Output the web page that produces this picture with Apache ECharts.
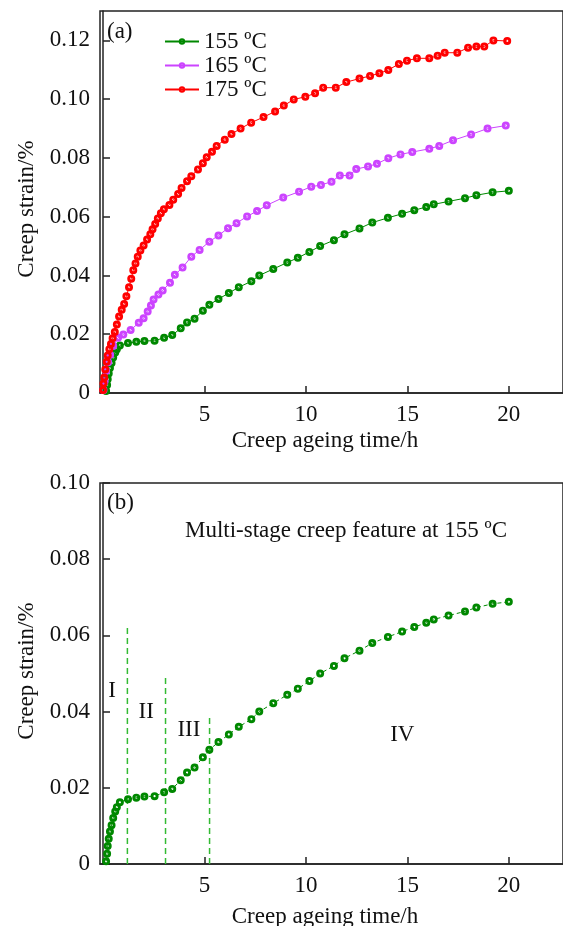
<!DOCTYPE html>
<html>
<head>
<meta charset="utf-8">
<script src="https://cdn.jsdelivr.net/npm/echarts@6/dist/echarts.min.js"></script>
<style>
  html, body { margin: 0; padding: 0; background: #fff; }
  #chart { width: 563px; height: 926px; }
</style>
</head>
<body>
<div id="chart"></div>
<script>
// creep ageing time (h) and creep strain (%)
const t155 = [0.15, 0.2, 0.23, 0.28, 0.34, 0.42, 0.5, 0.6, 0.68, 0.83, 1.23, 1.64, 2.04, 2.54, 3.01, 3.41, 3.83, 4.14, 4.51, 4.92, 5.24, 5.69, 6.2, 6.69, 7.31, 7.7, 8.39, 9.08, 9.6, 10.17, 10.7, 11.38, 11.9, 12.64, 13.27, 14.04, 14.74, 15.34, 15.93, 16.3, 17.03, 17.84, 18.4, 19.2, 20.0];
const s155 = [0.0007, 0.0027, 0.0047, 0.0066, 0.0085, 0.0102, 0.0121, 0.0138, 0.0149, 0.0162, 0.017, 0.0174, 0.0177, 0.0178, 0.0188, 0.0197, 0.022, 0.024, 0.0253, 0.028, 0.030, 0.032, 0.034, 0.036, 0.038, 0.040, 0.0422, 0.0444, 0.046, 0.048, 0.050, 0.052, 0.054, 0.056, 0.058, 0.0596, 0.061, 0.0622, 0.0633, 0.0642, 0.0652, 0.0663, 0.0673, 0.0683, 0.0688];

const t165 = [0.02, 0.08, 0.15, 0.25, 0.35, 0.5, 0.74, 1.0, 1.36, 1.76, 2.0, 2.2, 2.36, 2.49, 2.73, 2.94, 3.3, 3.54, 3.92, 4.35, 4.76, 5.24, 5.69, 6.16, 6.58, 7.1, 7.59, 8.07, 8.88, 9.66, 10.26, 10.74, 11.26, 11.67, 12.15, 12.48, 13.06, 13.5, 14.06, 14.66, 15.24, 16.08, 16.57, 17.25, 18.14, 18.95, 19.85];
const s165 = [0.001, 0.004, 0.0075, 0.0105, 0.013, 0.016, 0.0188, 0.0199, 0.0214, 0.0239, 0.0254, 0.0277, 0.0298, 0.0318, 0.0335, 0.0349, 0.0375, 0.0402, 0.0427, 0.0464, 0.0487, 0.0515, 0.0536, 0.0561, 0.0578, 0.0601, 0.0619, 0.0639, 0.0665, 0.0685, 0.0702, 0.0708, 0.0719, 0.074, 0.074, 0.0762, 0.0771, 0.078, 0.0799, 0.0812, 0.082, 0.0831, 0.0841, 0.086, 0.088, 0.090, 0.091];

const t175 = [0.0, 0.02, 0.06, 0.11, 0.18, 0.23, 0.31, 0.39, 0.47, 0.58, 0.68, 0.79, 0.92, 1.04, 1.15, 1.28, 1.39, 1.49, 1.6, 1.71, 1.84, 2.0, 2.17, 2.33, 2.44, 2.57, 2.7, 2.85, 3.0, 3.27, 3.46, 3.7, 3.87, 4.14, 4.35, 4.68, 4.92, 5.11, 5.37, 5.6, 6.0, 6.33, 6.78, 7.3, 7.91, 8.48, 8.91, 9.4, 9.97, 10.45, 10.85, 11.47, 11.99, 12.64, 13.16, 13.62, 14.06, 14.58, 14.98, 15.47, 16.08, 16.49, 16.84, 17.46, 17.99, 18.4, 18.79, 19.24, 19.92];
const s175 = [0.001, 0.0032, 0.0053, 0.008, 0.0106, 0.0128, 0.0149, 0.0167, 0.0186, 0.0208, 0.0233, 0.026, 0.0283, 0.0303, 0.0329, 0.036, 0.0389, 0.0418, 0.0441, 0.0464, 0.0485, 0.0502, 0.0522, 0.054, 0.0557, 0.0575, 0.0594, 0.0612, 0.0625, 0.064, 0.0658, 0.0677, 0.0698, 0.0721, 0.0738, 0.0761, 0.0782, 0.0802, 0.0821, 0.0841, 0.0862, 0.0881, 0.090, 0.092, 0.0939, 0.0958, 0.0978, 0.0999, 0.1008, 0.102, 0.1039, 0.1039, 0.1058, 0.107, 0.1079, 0.1088, 0.1099, 0.112, 0.1131, 0.1139, 0.1139, 0.1148, 0.1158, 0.1158, 0.1175, 0.1179, 0.1179, 0.120, 0.1198];

const seriesNames = ["155 ºC", "165 ºC", "175 ºC"];
const seriesColors = ["#008800", "#cc44ff", "#ff0000"];

// stage boundaries in panel (b)
const stageX = [1.2, 3.08, 5.25];
const stageTop = [0.062, 0.049, 0.039];
const stageNames = ["I", "II", "III", "IV"];
const stageLabelX = [0.45, 2.13, 4.23, 14.75];
const stageLabelY = [0.0453, 0.040, 0.0351, 0.0338];

const xTicks = [5, 10, 15, 20];
const yTicksA = [0, 0.02, 0.04, 0.06, 0.08, 0.10, 0.12];
const yTicksB = [0, 0.02, 0.04, 0.06, 0.08, 0.10];

const FONT = '"Liberation Serif", "Times New Roman", serif';
// solid dot with a small white hole in the middle
const DOT = "path://M0,-5A5,5 0 1,1 0,5A5,5 0 1,1 0,-5ZM0,-1.4A1.4,1.4 0 1,0 0,1.4A1.4,1.4 0 1,0 0,-1.4Z";

const chart = echarts.init(document.getElementById("chart"));

function pairs(xs, ys) {
  return xs.map((x, i) => [x, ys[i]]);
}

function xAxis(gridIndex) {
  return {
    type: "value",
    gridIndex,
    min: -0.15,
    max: 22.67,
    axisLine: { lineStyle: { color: "#222", width: 1.5 } },
    axisTick: { inside: true, length: 7, customValues: xTicks, lineStyle: { color: "#222", width: 1.5 } },
    axisLabel: { customValues: xTicks, color: "#111", fontFamily: FONT, fontSize: 23, margin: 10 },
    splitLine: { show: false },
  };
}

function yAxis(gridIndex, max, ticks) {
  return {
    type: "value",
    gridIndex,
    min: 0,
    max,
    axisLine: { show: true, lineStyle: { color: "#222", width: 1.5 } },
    axisTick: { show: true, inside: true, length: 7, customValues: ticks, lineStyle: { color: "#222", width: 1.5 } },
    axisLabel: {
      customValues: ticks,
      color: "#111",
      fontFamily: FONT,
      fontSize: 23,
      margin: 10,
      formatter: (v) => (v === 0 ? "0" : v.toFixed(2)),
    },
    splitLine: { show: false },
  };
}

function curve(name, xs, ys, color, gridIndex, dashed) {
  return {
    name,
    type: "line",
    xAxisIndex: gridIndex,
    yAxisIndex: gridIndex,
    data: pairs(xs, ys),
    symbol: DOT,
    symbolSize: 8,
    itemStyle: { color },
    lineStyle: { color, width: 1, type: dashed ? [4, 3] : "solid" },
  };
}

const series = [
  curve(seriesNames[0], t155, s155, seriesColors[0], 0, false),
  curve(seriesNames[1], t165, s165, seriesColors[1], 0, false),
  curve(seriesNames[2], t175, s175, seriesColors[2], 0, false),
  curve("155 ºC (b)", t155, s155, seriesColors[0], 1, true),
];

stageX.forEach((x, i) => {
  series.push({
    type: "line",
    xAxisIndex: 1,
    yAxisIndex: 1,
    data: [[x, 0], [x, stageTop[i]]],
    symbol: "none",
    lineStyle: { color: "#33bb33", width: 1.5, type: [6, 4] },
  });
});

function text(str, x, y, opts = {}) {
  return {
    type: "text",
    x,
    y,
    rotation: opts.rotation || 0,
    style: {
      text: str,
      font: `23px ${FONT}`,
      fill: "#111",
      align: opts.align || "left",
      verticalAlign: "middle",
    },
  };
}

const option = {
  animation: false,
  backgroundColor: "#fff",
  grid: [
    { left: 100, top: 11, width: 470, height: 382, show: true, borderColor: "#222", borderWidth: 1.5 },
    { left: 100, top: 483, width: 470, height: 381, show: true, borderColor: "#222", borderWidth: 1.5 },
  ],
  xAxis: [xAxis(0), xAxis(1)],
  yAxis: [yAxis(0, 0.13, yTicksA), yAxis(1, 0.10, yTicksB)],
  legend: {
    data: seriesNames,
    orient: "vertical",
    left: 159,
    top: 25,
    itemWidth: 34,
    itemHeight: 8,
    itemGap: 1,
    textStyle: { color: "#111", fontFamily: FONT, fontSize: 23 },
  },
  graphic: [
    text("(a)", 107, 32),
    text("(b)", 107, 503),
    text("Multi-stage creep feature at 155 ºC", 185, 531),
    text("Creep ageing time/h", 325, 441, { align: "center" }),
    text("Creep ageing time/h", 325, 917, { align: "center" }),
    text("Creep strain/%", 27, 209, { align: "center", rotation: Math.PI / 2 }),
    text("Creep strain/%", 27, 671, { align: "center", rotation: Math.PI / 2 }),
  ],
  series,
};

chart.setOption(option);

// stage labels placed through the panel (b) scales
const stageText = stageNames.map((n, i) => {
  const [px, py] = chart.convertToPixel({ gridIndex: 1 }, [stageLabelX[i], stageLabelY[i]]);
  return text(n, px, py, { align: "center" });
});
chart.setOption({ graphic: option.graphic.concat(stageText) });
</script>
</body>
</html>
